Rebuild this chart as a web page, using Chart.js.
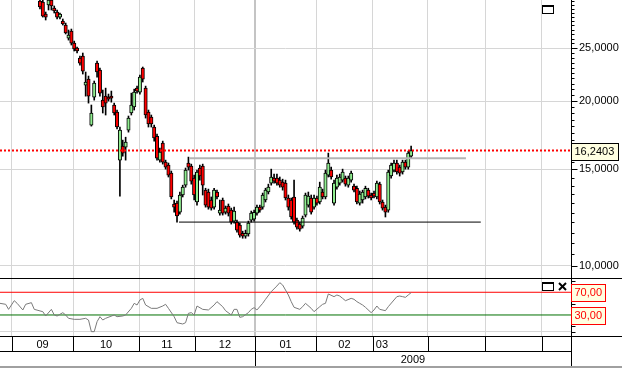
<!DOCTYPE html>
<html>
<head>
<meta charset="utf-8">
<title>Candles + RSI</title>
<script src="https://cdn.jsdelivr.net/npm/chart.js@4.4.1/dist/chart.umd.min.js"></script>
<style>
    html, body { margin: 0; padding: 0; background: #fff; }
    #wrap { position: relative; width: 622px; height: 368px; }
</style>
</head>
<body>
<div id="wrap"><canvas id="chart" width="622" height="368"></canvas></div>
<script>
// Daily sessions, index = session number on the time axis.
// Sessions before firstIndex are above the visible price range.
const firstIndex = 14;

const opens = [30.46, 30.34, 28.84, 29.96, 30.59, 29.59, 29.09, 28.48, 28.01, 27.54,
    26.07, 26.86, 25.53, 25.00, 23.97, 24.17, 21.39, 21.94, 18.08, 20.34,
    23.47, 22.79, 20.08, 20.42, 20.34, 20.42, 19.67, 19.10, 15.60, 16.55,
    16.48, 17.70, 19.02, 19.51, 21.12, 20.77, 22.98, 21.12, 19.10, 18.70,
    17.93, 17.25, 15.60, 16.76, 15.47, 15.28, 14.77, 12.97, 13.02, 12.53,
    13.47, 14.04, 15.41, 15.21, 14.46, 13.08, 15.09, 15.21, 13.75, 13.64,
    13.19, 12.80, 13.64, 12.48, 13.19, 12.53, 12.86, 12.64, 12.07, 12.02,
    11.87, 11.47, 11.33, 11.43, 12.12, 12.17, 12.48, 12.80, 12.80, 13.19,
    13.64, 14.16, 14.46, 14.46, 14.34, 14.22, 14.16, 13.30, 13.19, 13.36,
    12.12, 11.92, 11.82, 12.38, 12.91, 13.30, 12.80, 13.30, 13.08, 13.64,
    13.36, 14.65, 14.96, 13.02, 13.92, 14.16, 14.34, 14.46, 14.04, 14.34,
    13.98, 13.86, 13.02, 13.19, 13.36, 13.75, 13.47, 13.58, 13.36, 14.10,
    13.08, 12.80, 12.64, 14.59, 14.96, 15.41, 15.15, 14.84, 15.47, 15.15,
    15.86];
const highs = [30.97, 30.59, 29.09, 30.97, 30.84, 29.84, 29.34, 28.97, 28.25, 27.77,
    26.97, 27.08, 25.74, 25.11, 24.17, 24.48, 22.60, 22.22, 19.67, 21.76,
    23.67, 22.98, 20.95, 21.12, 20.60, 20.86, 19.83, 19.26, 17.93, 16.97,
    17.18, 18.78, 20.68, 21.03, 21.30, 22.31, 23.08, 21.30, 19.26, 18.86,
    18.08, 17.40, 16.41, 16.90, 15.60, 15.41, 14.90, 13.19, 13.13, 13.64,
    14.04, 15.09, 15.80, 15.34, 14.65, 14.96, 15.28, 15.34, 13.86, 13.81,
    13.36, 13.86, 13.75, 13.19, 13.30, 12.86, 12.97, 12.75, 12.80, 12.12,
    11.97, 11.57, 11.62, 12.07, 12.59, 12.64, 12.91, 12.91, 13.58, 13.86,
    14.10, 15.02, 14.71, 14.71, 14.53, 14.40, 14.34, 13.47, 13.30, 14.34,
    12.22, 12.02, 12.33, 13.58, 13.64, 13.47, 13.47, 13.41, 14.22, 13.81,
    14.96, 16.07, 15.15, 14.34, 14.65, 14.71, 15.02, 14.59, 14.59, 14.90,
    14.10, 13.98, 13.70, 13.75, 13.98, 13.86, 13.58, 13.70, 14.28, 14.22,
    13.19, 12.91, 14.96, 15.41, 15.60, 15.60, 15.28, 15.60, 15.60, 16.20,
    16.55];
const lows = [29.46, 28.48, 28.13, 29.34, 29.34, 28.97, 28.25, 28.25, 27.54, 26.52,
    25.85, 25.32, 24.69, 24.48, 23.27, 22.41, 20.42, 19.83, 18.00, 20.08,
    22.12, 20.42, 19.02, 18.86, 20.00, 19.91, 18.86, 17.78, 13.41, 15.86,
    15.60, 17.55, 18.86, 19.26, 20.68, 20.60, 21.67, 18.62, 17.93, 17.93,
    16.90, 15.60, 15.47, 15.34, 15.02, 14.53, 13.25, 12.53, 12.02, 12.43,
    13.36, 13.92, 14.96, 14.10, 13.19, 12.91, 14.34, 13.47, 12.80, 12.69,
    12.64, 12.69, 13.25, 12.38, 12.38, 12.43, 12.33, 11.92, 11.97, 11.52,
    11.28, 11.23, 11.23, 11.33, 12.02, 12.07, 12.38, 12.53, 12.69, 13.08,
    13.53, 14.04, 14.16, 14.04, 13.92, 13.75, 13.19, 12.64, 12.17, 11.92,
    11.67, 11.57, 11.72, 12.28, 12.80, 12.43, 12.69, 12.91, 12.97, 13.25,
    13.25, 14.53, 14.40, 12.91, 13.81, 14.04, 14.22, 13.98, 13.92, 14.22,
    13.64, 12.97, 12.91, 13.02, 13.25, 13.30, 13.19, 13.30, 13.25, 12.97,
    12.64, 12.28, 12.53, 14.46, 14.84, 14.71, 14.59, 14.71, 15.02, 15.02,
    15.73];
const closes = [29.71, 28.60, 28.48, 30.59, 29.84, 29.22, 28.48, 28.84, 27.66, 26.63,
    26.41, 25.53, 24.90, 24.69, 23.47, 22.69, 21.67, 20.42, 19.02, 21.57,
    22.60, 20.68, 19.51, 19.83, 20.17, 20.25, 19.02, 17.93, 17.70, 16.07,
    16.83, 18.62, 19.67, 20.77, 20.86, 22.12, 21.94, 18.86, 18.16, 18.16,
    17.12, 15.73, 16.13, 15.47, 15.15, 14.65, 13.36, 12.80, 12.33, 13.47,
    13.92, 14.96, 15.15, 14.28, 13.47, 14.84, 14.59, 14.04, 12.91, 12.80,
    12.75, 13.75, 13.36, 12.64, 12.48, 12.75, 12.48, 12.02, 12.59, 11.62,
    11.38, 11.33, 11.47, 11.97, 12.48, 12.53, 12.80, 12.64, 13.47, 13.75,
    13.92, 14.53, 14.28, 14.16, 14.04, 13.92, 13.30, 12.80, 12.28, 12.02,
    11.77, 11.67, 12.22, 13.47, 13.41, 12.53, 13.30, 13.02, 13.92, 13.36,
    14.77, 15.41, 14.53, 14.16, 14.46, 14.53, 14.84, 14.10, 14.46, 14.77,
    13.75, 13.08, 13.53, 13.64, 13.86, 13.41, 13.30, 13.41, 14.16, 13.08,
    12.75, 12.53, 14.84, 15.28, 15.41, 14.84, 14.77, 15.47, 15.15, 16.07,
    16.24];

// RSI readings [session, value]
const rsiPoints = [[0, 50.5], [2, 48.8], [3, 39.9], [5, 55.2], [6, 50.5], [8, 38.8], [9, 48.8],
    [11, 51.7], [12, 39.9], [15, 35.8], [16, 28.2], [18, 39.9], [19, 30.0], [20, 28.2], [22, 34.1],
    [23, 30.0], [24, 24.1], [26, 22.3], [28, 22.3], [30, 24.1], [31, 21.1], [32, 0.6], [33, 0.6],
    [34, 18.2], [35, 27.0], [36, 21.1], [37, 24.1], [40, 30.0], [41, 27.0], [43, 28.2], [44, 30.0],
    [46, 41.7], [47, 50.5], [48, 47.6], [49, 56.4], [50, 59.3], [51, 47.6], [53, 41.7], [55, 41.7],
    [57, 45.8], [58, 48.8], [59, 41.7], [61, 27.0], [62, 16.4], [64, 14.1], [65, 16.4], [66, 32.9],
    [67, 34.1], [68, 30.0], [69, 45.8], [71, 39.9], [73, 38.8], [75, 47.6], [76, 53.5], [78, 44.6],
    [79, 37.6], [81, 30.0], [82, 39.9], [83, 39.9], [84, 25.8], [85, 27.0], [87, 34.1], [88, 39.9],
    [89, 42.9], [90, 38.8], [92, 50.5], [93, 57.6], [95, 71.1], [97, 81.1], [98, 86.9], [99, 82.8],
    [101, 65.2], [102, 53.5], [103, 43.5], [105, 39.9], [106, 44.6], [107, 50.5], [109, 41.7],
    [110, 35.8], [112, 44.6], [113, 48.8], [114, 50.5], [115, 67.0], [117, 62.3], [118, 65.2],
    [119, 63.4], [120, 59.3], [121, 55.2], [123, 59.3], [124, 57.6], [125, 53.5], [126, 50.5],
    [127, 47.6], [128, 43.5], [130, 34.1], [131, 38.8], [132, 45.8], [133, 39.9], [135, 37.6],
    [136, 44.6], [138, 56.4], [139, 62.3], [140, 63.4], [141, 62.3], [142, 61.1], [143, 65.2],
    [144, 69.3]];

const lastPrice = 16.2403;
const resistance = { from: 66.2, to: 163.2, value: 15.73 };
const support = { from: 62.7, to: 168.4, value: 12.02 };
const rsiLevels = [70, 30];

// time axis: month starts (session units) and their labels
const monthStarts = [4.2, 25.6, 48.7, 68.3, 89.3, 110.7, 130.6, 149.9, 169.9, 189.8];
const monthLabels = ['09', '10', '11', '12', '01', '02', '03'];
const yearStarts = [{ label: '2009', month: 4 }];
const majorPrices = [10, 15, 20, 25];

const fontFamily = '"Liberation Sans", Arial, sans-serif';
Chart.defaults.font.family = fontFamily;
Chart.defaults.font.size = 11;
Chart.defaults.color = '#000';

const sessions = opens.map((_, k) => firstIndex + k);
const lastSession = sessions[sessions.length - 1];
const isMajor = v => majorPrices.some(m => Math.abs(m - v) < 1e-6);
const fmt = (v, d) => v.toFixed(d).replace('.', ',');

const wickData = sessions.map((x, k) => ({ x, y: [lows[k], highs[k]] }));
const bodyData = sessions.map((x, k) => ({ x, y: [opens[k], closes[k]] }));
const bodyColors = sessions.map((_, k) => closes[k] >= opens[k] ? '#90ee90' : '#ff0000');

function hline(xFrom, xTo, value) {
    return [{ x: xFrom, y: value }, { x: xTo, y: value }];
}

// no label padding: the panes must fill the canvas edge to edge
function noPad(s) {
    s.paddingTop = 0;
    s.paddingBottom = 0;
    s.paddingLeft = 0;
    s.paddingRight = 0;
}

// everything the trading screen draws around the panes
const paneDecor = {
    id: 'paneDecor',
    afterDraw(chart) {
        const { ctx, chartArea: ca, scales } = chart;
        const ys = scales.y, yr = scales.yr, xs = scales.x;
        const W = chart.width, H = chart.height;
        const seg = (x1, y1, x2, y2) => { ctx.beginPath(); ctx.moveTo(x1, y1); ctx.lineTo(x2, y2); ctx.stroke(); };
        const axisX = Math.round(ca.right) + 0.5;

        ctx.save();
        ctx.strokeStyle = '#000';
        ctx.lineWidth = 1;

        // price axis tick marks
        ys.ticks.forEach(t => {
            const py = Math.round(ys.getPixelForValue(t.value)) + 0.5;
            seg(axisX, py, axisX + (isMajor(t.value) ? 6 : 3), py);
        });
        // rsi axis tick marks
        yr.ticks.forEach(t => {
            const py = Math.round(yr.getPixelForValue(t.value)) + 0.5;
            seg(axisX, py, axisX + 4, py);
        });

        // pane separator
        const sepY = Math.round(yr.top) + 0.5;
        seg(0, sepY, W, sepY);

        // date rows
        const r1 = Math.round(ca.bottom) + 0.5;
        const r2 = r1 + 15;
        seg(0, r1, W, r1);
        seg(0, r2, axisX, r2);
        seg(axisX, r1, axisX, H);
        monthStarts.forEach(m => {
            const px = Math.round(xs.getPixelForValue(m)) + 0.5;
            if (px < ca.right) seg(px, r1, px, r2);
        });
        yearStarts.forEach(yv => {
            const px = Math.round(xs.getPixelForValue(monthStarts[yv.month])) + 0.5;
            seg(px, r2, px, H);
        });
        ctx.strokeStyle = '#a0a0a0';
        ctx.lineWidth = 2;
        seg(0, H - 1, W, H - 1);

        ctx.fillStyle = '#000';
        ctx.font = '11px ' + fontFamily;
        ctx.textBaseline = 'middle';
        monthLabels.forEach((lab, k) => {
            const a = xs.getPixelForValue(monthStarts[k]);
            const b = xs.getPixelForValue(monthStarts[k + 1]);
            if (monthStarts[k + 1] > lastSession) {
                ctx.textAlign = 'left';
                ctx.fillText(lab, a + 3, r1 + 8);
            } else {
                ctx.textAlign = 'center';
                ctx.fillText(lab, (a + b) / 2, r1 + 8);
            }
        });
        yearStarts.forEach(yv => {
            const a = xs.getPixelForValue(monthStarts[yv.month]);
            ctx.textAlign = 'center';
            ctx.fillText(yv.label, (a + ca.right) / 2, r2 + 8);
        });

        // value boxes on the axes
        ctx.lineWidth = 1;
        ctx.textAlign = 'left';
        const box = (v, scale, w, stroke, color, text) => {
            const py = Math.round(scale.getPixelForValue(v));
            ctx.fillStyle = '#ffffe1';
            ctx.fillRect(axisX, py - 8, w, 17);
            ctx.strokeStyle = stroke;
            ctx.strokeRect(axisX, py - 7.5, w, 17);
            ctx.fillStyle = color;
            ctx.fillText(text, axisX + 3, py + 1);
        };
        box(lastPrice, ys, 47, '#000', '#000', fmt(lastPrice, 4));
        rsiLevels.forEach(v => box(v, yr, 34, '#ff0000', '#ff0000', fmt(v, 2)));

        // pane buttons
        ctx.strokeStyle = '#000';
        ctx.lineWidth = 1;
        const btn = (bx, by) => {
            ctx.strokeRect(bx + 0.5, by + 0.5, 11, 8);
            ctx.fillStyle = '#000';
            ctx.fillRect(bx, by, 12, 2);
        };
        btn(542, 5);
        btn(542, 282);
        ctx.lineWidth = 2;
        seg(559, 283, 566, 290);
        seg(566, 283, 559, 290);

        ctx.restore();
    }
};

new Chart(document.getElementById('chart'), {
    type: 'bar',
    data: {
        datasets: [
            {
                label: 'range',
                data: wickData,
                yAxisID: 'y',
                backgroundColor: '#000',
                borderWidth: 0,
                barThickness: 1,
                grouped: false,
                order: 3
            },
            {
                label: 'body',
                data: bodyData,
                yAxisID: 'y',
                backgroundColor: bodyColors,
                borderColor: '#000',
                borderWidth: 1,
                borderSkipped: false,
                barThickness: 3.4,
                grouped: false,
                order: 2
            },
            {
                type: 'line',
                label: 'last',
                data: hline(0, 200, lastPrice),
                yAxisID: 'y',
                borderColor: '#ff0000',
                borderWidth: 2,
                borderDash: [2, 2],
                pointRadius: 0,
                order: 0
            },
            {
                type: 'line',
                label: 'resistance',
                data: hline(resistance.from, resistance.to, resistance.value),
                yAxisID: 'y',
                borderColor: '#b4b4b4',
                borderWidth: 2,
                pointRadius: 0,
                order: 1
            },
            {
                type: 'line',
                label: 'support',
                data: hline(support.from, support.to, support.value),
                yAxisID: 'y',
                borderColor: '#000',
                borderWidth: 1,
                pointRadius: 0,
                order: 1
            },
            {
                type: 'line',
                label: 'RSI 70',
                data: hline(0, 200, rsiLevels[0]),
                yAxisID: 'yr',
                borderColor: '#ff0000',
                borderWidth: 1,
                pointRadius: 0,
                order: 1
            },
            {
                type: 'line',
                label: 'RSI 30',
                data: hline(0, 200, rsiLevels[1]),
                yAxisID: 'yr',
                borderColor: '#007000',
                borderWidth: 1,
                pointRadius: 0,
                order: 1
            },
            {
                type: 'line',
                label: 'RSI',
                data: rsiPoints.map(p => ({ x: p[0], y: p[1] })),
                yAxisID: 'yr',
                borderColor: '#7a7a7a',
                borderWidth: 1,
                pointRadius: 0,
                tension: 0,
                order: 0
            }
        ]
    },
    options: {
        responsive: false,
        animation: false,
        devicePixelRatio: 1,
        events: [],
        layout: { padding: 0, autoPadding: false },
        plugins: { legend: { display: false }, tooltip: { enabled: false } },
        scales: {
            x: {
                type: 'linear',
                min: 0,
                max: 200,
                offset: false,
                afterBuildTicks: s => { s.ticks = monthStarts.map(v => ({ value: v })); },
                afterFit: s => { s.height = 32; noPad(s); },
                grid: {
                    offset: false,
                    drawTicks: false,
                    color: c => (c.tick && c.tick.value === monthStarts[4]) ? '#c4c4c4' : '#d6d6d6',
                    lineWidth: c => (c.tick && c.tick.value === monthStarts[4]) ? 2 : 1
                },
                ticks: { display: false },
                border: { display: false }
            },
            y: {
                type: 'logarithmic',
                position: 'right',
                stack: 'panes',
                stackWeight: 278,
                min: 9.50,
                max: 30.60,
                afterBuildTicks: s => {
                    const t = [];
                    for (let v = 10; v <= 30.5; v += 0.5) t.push({ value: v });
                    s.ticks = t;
                },
                afterFit: s => { s.width = 51; noPad(s); },
                grid: {
                    drawTicks: false,
                    color: c => (c.tick && isMajor(c.tick.value)) ? '#d6d6d6' : 'rgba(0,0,0,0)'
                },
                border: { color: '#000', width: 1 },
                ticks: {
                    autoSkip: false,
                    padding: 8,
                    color: '#000',
                    callback: v => isMajor(v) ? fmt(v, 4) : ''
                }
            },
            yr: {
                type: 'linear',
                position: 'right',
                stack: 'panes',
                stackWeight: 58,
                min: -7.05,
                max: 95.15,
                afterBuildTicks: s => {
                    const t = [];
                    for (let v = 0; v <= 90; v += 10) t.push({ value: v });
                    s.ticks = t;
                },
                afterFit: s => { s.width = 51; noPad(s); },
                grid: {
                    drawTicks: false,
                    color: c => (c.tick && c.tick.value === 0) ? '#d6d6d6' : 'rgba(0,0,0,0)'
                },
                border: { color: '#000', width: 1 },
                ticks: { display: false }
            }
        }
    },
    plugins: [paneDecor]
});
</script>
</body>
</html>
